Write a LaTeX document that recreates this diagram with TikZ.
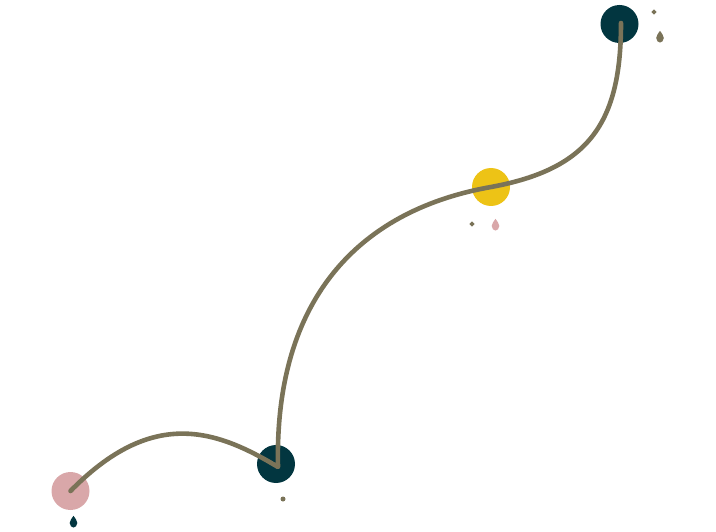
\documentclass[tikz,border=0pt]{standalone}
\begin{document}
\begin{tikzpicture}[x=1pt,y=-1pt,
  dot/.style={circle,inner sep=0pt,minimum size=38pt},
  route/.style={line width=4.6pt,draw=olivec,line cap=round,line join=round},
  drop/.style={fill=#1},
  tick/.style={fill=olivec}]
\definecolor{olivec}{HTML}{7A7358}
\definecolor{tealc}{HTML}{023640}
\definecolor{pinkc}{HTML}{D9A7A9}
\definecolor{yellowc}{HTML}{EDC316}
\useasboundingbox (0,0) rectangle (716,532);
\node[dot,fill=pinkc] (p1) at (70.5,491) {};
\node[dot,fill=tealc] (p2) at (276,464) {};
\node[dot,fill=yellowc] (p3) at (491,187) {};
\node[dot,fill=tealc] (p4) at (619.5,24) {};
\coordinate (v) at (278,467);
\coordinate (top) at (621,23);
\draw[route] (p1.center) .. controls (152,408) and (215,429) .. (v)
  .. controls (274,292) and (366,209) .. (p3.center)
  .. controls (589,169) and (621,123) .. (top);
% small decorations
\fill[tick] (654,9.3) -- (656.7,12) -- (654,14.7) -- (651.3,12) -- cycle;
\fill[tick] (472,221.3) -- (474.7,224) -- (472,226.7) -- (469.3,224) -- cycle;
\fill[tick] (283,499) circle (2.5);
\foreach \cx/\cy/\cc in {660/37/olivec,495.5/225/pinkc,73.5/522/tealc}{
  \fill[drop=\cc] (\cx,\cy-6.2) .. controls (\cx+1.6,\cy-3.6) and (\cx+3.8,\cy-1.6) .. (\cx+3.8,\cy+1)
    .. controls (\cx+3.8,\cy+3.6) and (\cx+1.6,\cy+5.6) .. (\cx,\cy+5.6)
    .. controls (\cx-1.6,\cy+5.6) and (\cx-3.8,\cy+3.6) .. (\cx-3.8,\cy+1)
    .. controls (\cx-3.8,\cy-1.6) and (\cx-1.6,\cy-3.6) .. cycle;
}
\end{tikzpicture}
\end{document}
